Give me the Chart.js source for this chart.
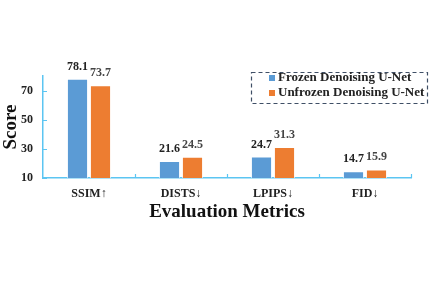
<!DOCTYPE html>
<html>
<head>
<meta charset="utf-8">
<script src="https://cdn.jsdelivr.net/npm/chart.js@4"></script>
<style>
  html, body { margin: 0; padding: 0; background: #fff; }
  #wrap { width: 431px; height: 284px; position: relative; }
</style>
</head>
<body>
<div id="wrap"><canvas id="chart" width="431" height="284"></canvas></div>
<script>
// Chart data
const metrics = ['SSIM\u2191', 'DISTS\u2193', 'LPIPS\u2193', 'FID\u2193'];
const frozen = [78.1, 21.6, 24.7, 14.7];
const unfrozen = [73.7, 24.5, 31.3, 15.9];
const yTicks = [10, 30, 50, 70];

const FONT = "'Liberation Serif', 'Times New Roman', serif";
const AXIS = '#5cc5f2';

// value labels above bars
const valueLabels = {
  id: 'valueLabels',
  afterDatasetsDraw(chart) {
    const ctx = chart.ctx;
    ctx.save();
    ctx.font = 'bold 12px ' + FONT;
    ctx.textAlign = 'center';
    ctx.textBaseline = 'middle';
    chart.data.datasets.forEach((ds, i) => {
      ctx.fillStyle = i === 0 ? '#222' : '#444';
      chart.getDatasetMeta(i).data.forEach((bar, j) => {
        ctx.fillText(ds.data[j].toFixed(1), bar.x, bar.y - 12);
      });
    });
    ctx.restore();
  }
};

// small inward ticks on both axes
const innerTicks = {
  id: 'innerTicks',
  afterDraw(chart) {
    const ctx = chart.ctx;
    const x = chart.scales.x, y = chart.scales.y;
    const a = chart.chartArea;
    ctx.save();
    ctx.strokeStyle = AXIS;
    ctx.lineWidth = 1.2;
    ctx.beginPath();
    yTicks.forEach(v => {
      const py = Math.round(y.getPixelForValue(v)) + 0.5;
      ctx.moveTo(a.left, py); ctx.lineTo(a.left + 4, py);
    });
    for (let i = 1; i <= metrics.length; i++) {
      const px = Math.round(x.getPixelForTick(i - 1) + (x.getPixelForTick(1) - x.getPixelForTick(0)) / 2) + 0.5;
      ctx.moveTo(px, a.bottom); ctx.lineTo(px, a.bottom - 4);
    }
    ctx.stroke();
    ctx.restore();
  }
};

// dashed legend box in the upper right
const boxLegend = {
  id: 'boxLegend',
  afterDraw(chart) {
    const ctx = chart.ctx;
    ctx.save();
    ctx.setLineDash([4, 3]);
    ctx.strokeStyle = '#3f4f66';
    ctx.lineWidth = 1.2;
    ctx.strokeRect(251.5, 72.5, 176, 31);
    ctx.setLineDash([]);
    ctx.font = 'bold 13px ' + FONT;
    ctx.textBaseline = 'middle';
    ctx.textAlign = 'left';
    const rows = [78, 93];
    chart.data.datasets.forEach((ds, i) => {
      ctx.fillStyle = ds.backgroundColor;
      ctx.fillRect(269, rows[i] - 3, 6, 6);
      ctx.fillStyle = '#222';
      ctx.fillText(ds.label, 278, rows[i]);
    });
    ctx.restore();
  }
};

new Chart(document.getElementById('chart'), {
  type: 'bar',
  data: {
    labels: metrics,
    datasets: [
      { label: 'Frozen Denoising U-Net', data: frozen, backgroundColor: '#5b9bd5', borderColor: 'rgba(255,255,255,0.7)', borderWidth: 1 },
      { label: 'Unfrozen Denoising U-Net', data: unfrozen, backgroundColor: '#ed7d31', borderColor: 'rgba(255,255,255,0.7)', borderWidth: 1 }
    ]
  },
  options: {
    responsive: false,
    animation: false,
    categoryPercentage: 0.5,
    barPercentage: 0.92,
    layout: { padding: { top: 76, right: 20, bottom: 58, left: 2 } },
    plugins: { legend: { display: false }, tooltip: { enabled: false } },
    scales: {
      x: {
        afterFit: axis => { axis.height = 48; },
        grid: { display: false, drawTicks: false },
        border: { color: AXIS, width: 1.5 },
        ticks: { color: '#222', font: { family: FONT, size: 12, weight: 'bold' }, padding: 9 },
        title: { display: true, text: 'Evaluation Metrics', color: '#111', font: { family: FONT, size: 19, weight: 'bold', lineHeight: 1 }, padding: { top: 0, bottom: 4 } }
      },
      y: {
        min: 10,
        max: 80,
        afterBuildTicks: axis => { axis.ticks = yTicks.map(v => ({ value: v })); },
        afterFit: axis => { axis.width = 41; },
        grid: { display: false, drawTicks: false },
        border: { color: AXIS, width: 1.5 },
        ticks: { color: '#222', font: { family: FONT, size: 12, weight: 'bold' }, padding: 10 },
        title: { display: true, text: 'Score', color: '#111', font: { family: FONT, size: 19, weight: 'bold', lineHeight: 1 }, padding: 0 }
      }
    }
  },
  plugins: [valueLabels, innerTicks, boxLegend]
});
</script>
</body>
</html>
